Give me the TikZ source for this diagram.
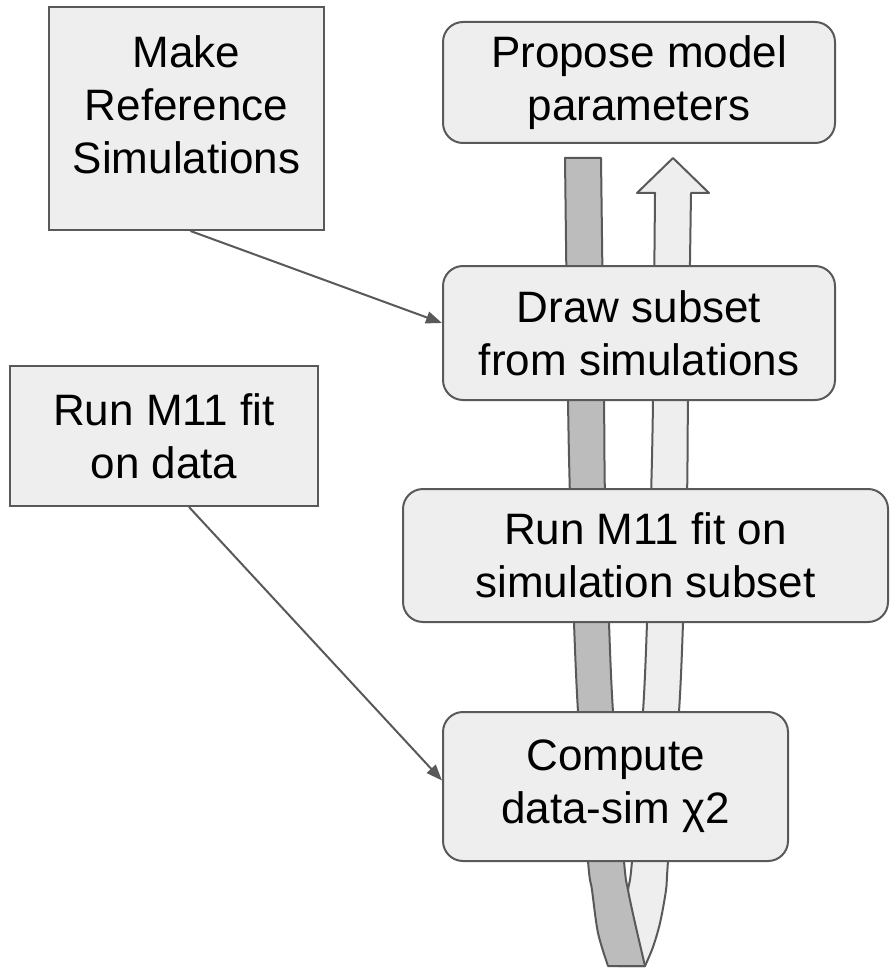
\documentclass[tikz,border=0pt]{standalone}
\usepackage{fontspec}
\setmainfont{Liberation Sans}
\usetikzlibrary{arrows.meta}

\definecolor{linegray}{HTML}{595959}
\definecolor{boxgray}{HTML}{EEEEEE}
\definecolor{bandgray}{HTML}{BCBCBC}

\tikzset{
  plainbox/.style={draw=linegray, fill=boxgray, line width=1pt, align=center, inner sep=0pt},
  softbox/.style={plainbox, rounded corners=10pt},
  link/.style={draw=linegray, line width=1pt, -{Triangle[length=8pt, width=6pt]}},
  band/.style={draw=linegray, line width=1pt, line join=round}
}

\begin{document}
\begin{tikzpicture}[x=0.5pt, y=-0.5pt, font=\fontsize{22}{26.5}\selectfont]
\useasboundingbox (0,0) rectangle (889,968);

\def\bandtop{158};
\def\headbase{193};
\def\bandbot{966};

% the loop: light strip going up, dark strip coming down in front
\draw[band, fill=boxgray] (673,\bandtop) -- (709,\headbase) -- (691,\headbase)
  -- plot[smooth, tension=0.5] coordinates {(691,\headbase) (688,400) (687,497) (683,623) (679,712) (668,861) (666,890) (660,923) (653,947) (645,\bandbot)}
  -- (618,\bandbot)
  -- plot[smooth, tension=0.5] coordinates {(618,\bandbot) (622,930) (628,890) (632,861) (643,712) (647,623) (651,497) (653,400) (655,\headbase)}
  -- (637,\headbase) -- cycle;

\draw[band, fill=bandgray] (565,\bandtop) -- (601,\bandtop)
  -- plot[smooth, tension=0.5] coordinates {(601,\bandtop) (604,400) (605,497) (609,623) (613,712) (624,861) (628,890) (635,923) (645,\bandbot)}
  -- (608,\bandbot)
  -- plot[smooth, tension=0.5] coordinates {(608,\bandbot) (598,933) (592,890) (588,861) (578,712) (574,623) (570,497) (568,400) (565,\bandtop)}
  -- cycle;

\node[plainbox, minimum width=137.5pt, minimum height=111.5pt] (ref) at (186.5,118.5) {};
\node[align=center] (reftext) at ([yshift=7pt]ref.center) {Make\\Reference\\Simulations};
\node[plainbox, minimum width=154pt, minimum height=70pt] (fitdata) at (164,436) {Run M11 fit\\on data};

\node[softbox, minimum width=196pt, minimum height=60.5pt] (propose) at (639,82.5) {Propose model\\parameters};
\node[softbox, minimum width=196pt, minimum height=67pt] (subset) at (639,333) {Draw subset\\from simulations};
\node[softbox, minimum width=242.5pt, minimum height=66.5pt] (fitsim) at (645.5,555.5) {Run M11 fit on\\simulation subset};
\node[softbox, minimum width=172.5pt, minimum height=74.5pt] (chisq) at (615.5,786.5) {Compute\\data-sim χ2};

\draw[link] ([xshift=2pt]ref.south) -- ([yshift=5pt]subset.west);
\draw[link] ([xshift=12.5pt]fitdata.south) -- ([yshift=3pt]chisq.west);

\end{tikzpicture}
\end{document}
